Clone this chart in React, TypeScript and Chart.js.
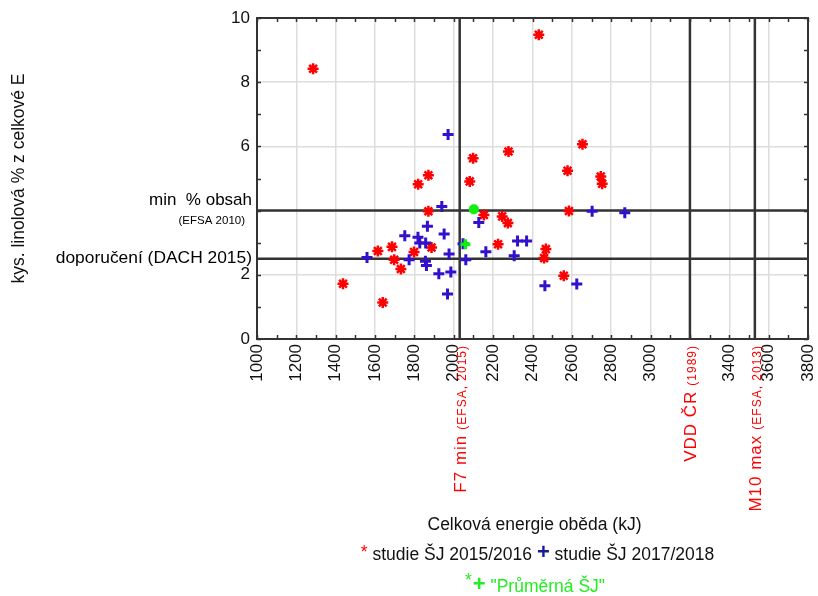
import React, { useEffect, useRef } from 'react';
import { Chart, registerables } from 'chart.js';

Chart.register(...registerables);

// Celková energie oběda (kJ) / kys. linolová % z celkové E
const study1516Energy = [1285, 2432, 2098, 2278, 1871, 2654, 2578, 2747, 2754, 2081, 1819, 1871, 2153, 2246, 2275, 2585, 2225, 2468, 2459, 2559, 1887, 1686, 1614, 1798, 1697, 1731, 1437, 1639];
const study1516Linoleic = [8.42, 9.48, 5.63, 5.84, 5.10, 6.07, 5.24, 5.06, 4.84, 4.91, 4.82, 3.98, 3.86, 3.82, 3.61, 3.99, 2.95, 2.80, 2.52, 1.97, 2.85, 2.87, 2.74, 2.71, 2.47, 2.18, 1.72, 1.14];

const study1718Energy = [1971, 1939, 2127, 2703, 2869, 1866, 1951, 1751, 1818, 1827, 1857, 2047, 2324, 2370, 2163, 2307, 2061, 1976, 1559, 1773, 1856, 1861, 1924, 1985, 1968, 2463, 2625];
const study1718Linoleic = [6.37, 4.13, 3.63, 3.98, 3.93, 3.51, 3.27, 3.22, 3.17, 2.99, 2.99, 2.97, 3.05, 3.05, 2.72, 2.59, 2.47, 2.65, 2.54, 2.47, 2.42, 2.29, 2.03, 2.09, 1.40, 1.66, 1.71];

const averageEnergy = [2102, 2059];
const averageLinoleic = [4.04, 2.95];
const averageStyles = ['star', 'cross'];

const refHorizontal = [4, 2.5];
const refVertical = [2030, 3200, 3530];

const xMin = 1000, xMax = 3800, xStep = 200, xMinor = 100;
const yMin = 0, yMax = 10, yStep = 2, yMinor = 1;
const hiddenXTicks = [3200];
const hiddenYTicks = [4];

const yRefLabels = [
  { value: 4, big: 'min  % obsah', small: '(EFSA 2010)' },
  { value: 2.5, big: 'doporučení (DACH 2015)', small: '' },
];
const xRefLabels = [
  { value: 2030, big: 'F7 min', small: '(EFSA, 2015)' },
  { value: 3200, big: 'VDD ČR', small: '(1989)' },
  { value: 3530, big: 'M10 max', small: '(EFSA, 2013)' },
];

const FONT = "'Liberation Sans', Arial, sans-serif";
const TEXT_SIZE = 17.5;

const zip = (xs: number[], ys: number[]) => xs.map((x, i) => ({ x, y: ys[i] }));

const decorPlugin = {
  id: 'decor',
  afterDraw(chart: any) {
    const { ctx, chartArea: a, scales } = chart;
    const x = scales.x, y = scales.y;
    ctx.save();
    // frame
    ctx.strokeStyle = '#333333';
    ctx.lineWidth = 2;
    ctx.strokeRect(a.left, a.top, a.right - a.left, a.bottom - a.top);
    // inward tick marks
    ctx.lineWidth = 1.5;
    ctx.beginPath();
    for (let v = xMin; v <= xMax; v += xMinor) {
      const px = Math.round(x.getPixelForValue(v)) + 0.5;
      ctx.moveTo(px, a.top); ctx.lineTo(px, a.top + 4);
      ctx.moveTo(px, a.bottom); ctx.lineTo(px, a.bottom - 4);
    }
    for (let v = yMin; v <= yMax; v += yMinor) {
      const py = Math.round(y.getPixelForValue(v)) + 0.5;
      ctx.moveTo(a.left, py); ctx.lineTo(a.left + 4, py);
      ctx.moveTo(a.right, py); ctx.lineTo(a.right - 4, py);
    }
    ctx.stroke();

    // y reference labels
    ctx.fillStyle = '#000000';
    ctx.textAlign = 'right';
    ctx.textBaseline = 'middle';
    for (const l of yRefLabels) {
      const py = y.getPixelForValue(l.value);
      if (l.small) {
        ctx.font = `17px ${FONT}`;
        ctx.fillText(l.big, a.left - 5, py - 10);
        ctx.font = `11.5px ${FONT}`;
        ctx.fillText(l.small, a.left - 12, py + 10);
      } else {
        ctx.font = `17.4px ${FONT}`;
        ctx.fillText(l.big, a.left - 5, py - 1);
      }
    }

    // x reference labels (rotated)
    ctx.fillStyle = '#ff0000';
    for (const l of xRefLabels) {
      const px = x.getPixelForValue(l.value);
      ctx.save();
      ctx.translate(px + 6, a.bottom + 6);
      ctx.rotate(-Math.PI / 2);
      ctx.textAlign = 'right';
      ctx.textBaseline = 'alphabetic';
      (ctx as any).letterSpacing = '1px';
      ctx.font = `12px ${FONT}`;
      const w = ctx.measureText(l.small).width;
      ctx.fillText(l.small, 0, 0);
      ctx.font = `17px ${FONT}`;
      ctx.fillText(l.big, -w - 5, 0);
      ctx.restore();
    }

    // axis titles
    ctx.fillStyle = '#111111';
    ctx.font = `${TEXT_SIZE}px ${FONT}`;
    ctx.textAlign = 'center';
    ctx.textBaseline = 'alphabetic';
    ctx.fillText('Celková energie oběda (kJ)', (a.left + a.right) / 2 + 2, 530);
    ctx.save();
    ctx.translate(24, (a.top + a.bottom) / 2);
    ctx.rotate(-Math.PI / 2);
    ctx.fillText('kys. linolová % z celkové E', 0, 0);
    ctx.restore();

    // legend line 1
    const cx = (a.left + a.right) / 2 + 5;
    ctx.textAlign = 'left';
    ctx.font = `${TEXT_SIZE}px ${FONT}`;
    const t1 = ' studie ŠJ 2015/2016 ';
    const t2 = ' studie ŠJ 2017/2018';
    const wStar = ctx.measureText('*').width;
    const w1 = ctx.measureText(t1).width;
    const w2 = ctx.measureText(t2).width;
    ctx.font = `bold 22px ${FONT}`;
    const wPlus = ctx.measureText('+').width;
    let xx = cx - (wStar + w1 + wPlus + w2) / 2;
    const b1 = 560;
    ctx.font = `${TEXT_SIZE}px ${FONT}`;
    ctx.fillStyle = '#ff0000';
    ctx.fillText('*', xx, b1 - 2); xx += wStar;
    ctx.fillStyle = '#111111';
    ctx.fillText(t1, xx, b1); xx += w1;
    ctx.font = `bold 22px ${FONT}`;
    ctx.fillStyle = '#1a1a99';
    ctx.fillText('+', xx, b1 - 1); xx += wPlus;
    ctx.font = `${TEXT_SIZE}px ${FONT}`;
    ctx.fillStyle = '#111111';
    ctx.fillText(t2, xx, b1);

    // legend line 2
    const t3 = ' "Průměrná ŠJ"';
    const w3 = ctx.measureText(t3).width;
    xx = cx - (wStar + wPlus + w3) / 2 - 3;
    const b2 = 592;
    ctx.fillStyle = '#22ee22';
    ctx.fillText('*', xx, b2 - 6); xx += wStar + 1;
    ctx.font = `bold 22px ${FONT}`;
    ctx.fillText('+', xx, b2 - 1); xx += wPlus;
    ctx.font = `${TEXT_SIZE}px ${FONT}`;
    ctx.fillText(t3, xx, b2);
    ctx.restore();
  },
};

export default function App() {
  const ref = useRef<HTMLCanvasElement>(null);
  useEffect(() => {
    document.body.style.margin = '0';
    const canvas = ref.current!;
    const datasets: any[] = [];
    refHorizontal.forEach((v) => {
      datasets.push({
        type: 'line', data: [{ x: xMin, y: v }, { x: xMax, y: v }],
        borderColor: '#333333', borderWidth: 2.5, pointRadius: 0, order: 10, showLine: true, fill: false,
      });
    });
    refVertical.forEach((v) => {
      datasets.push({
        type: 'line', data: [{ x: v, y: yMin }, { x: v, y: yMax }],
        borderColor: '#333333', borderWidth: 2.5, pointRadius: 0, order: 10, showLine: true, fill: false,
      });
    });
    datasets.push({
      label: 'studie ŠJ 2015/2016', data: zip(study1516Energy, study1516Linoleic),
      pointStyle: 'star', pointRadius: 5.5, borderColor: '#ff0000', backgroundColor: '#ff0000', pointBorderWidth: 2.5, order: 3,
    });
    datasets.push({
      label: 'studie ŠJ 2017/2018', data: zip(study1718Energy, study1718Linoleic),
      pointStyle: 'cross', pointRadius: 5.5, borderColor: '#3311cc', backgroundColor: '#3311cc', pointBorderWidth: 3, order: 2,
    });
    datasets.push({
      label: '"Průměrná ŠJ"', data: zip(averageEnergy, averageLinoleic),
      pointStyle: averageStyles, pointRadius: 5, borderColor: '#11ee11', backgroundColor: '#11ee11', pointBorderWidth: 3.5, order: 1,
    });

    const chart = new Chart(canvas, {
      type: 'scatter',
      data: { datasets },
      options: {
        animation: false,
        responsive: false,
        devicePixelRatio: 1,
        events: [],
        layout: { padding: { left: 0, top: 18, right: 10, bottom: 0 } },
        plugins: { legend: { display: false }, tooltip: { enabled: false } },
        scales: {
          x: {
            type: 'linear', min: xMin, max: xMax,
            afterFit: (s: any) => { s.height = 257; s.paddingLeft = 0; s.paddingRight = 0; },
            grid: { color: '#dddddd', lineWidth: 1.5, drawTicks: false },
            border: { display: false },
            ticks: {
              stepSize: xStep, autoSkip: false, maxRotation: 90, minRotation: 90, padding: 5,
              color: '#111111', font: { family: FONT, size: 17 },
              callback: (v: any) => (hiddenXTicks.includes(Number(v)) ? '' : String(v)),
            },
          },
          y: {
            type: 'linear', min: yMin, max: yMax,
            afterFit: (s: any) => { s.width = 257; s.paddingTop = 0; s.paddingBottom = 0; },
            grid: { color: '#dddddd', lineWidth: 1.5, drawTicks: false },
            border: { display: false },
            ticks: {
              stepSize: yStep, padding: 7,
              color: '#111111', font: { family: FONT, size: 17 },
              callback: (v: any) => (hiddenYTicks.includes(Number(v)) ? '' : String(v)),
            },
          },
        },
      },
      plugins: [decorPlugin],
    });
    return () => chart.destroy();
  }, []);
  return <canvas ref={ref} width={818} height={596} style={{ display: 'block' }} />;
}
